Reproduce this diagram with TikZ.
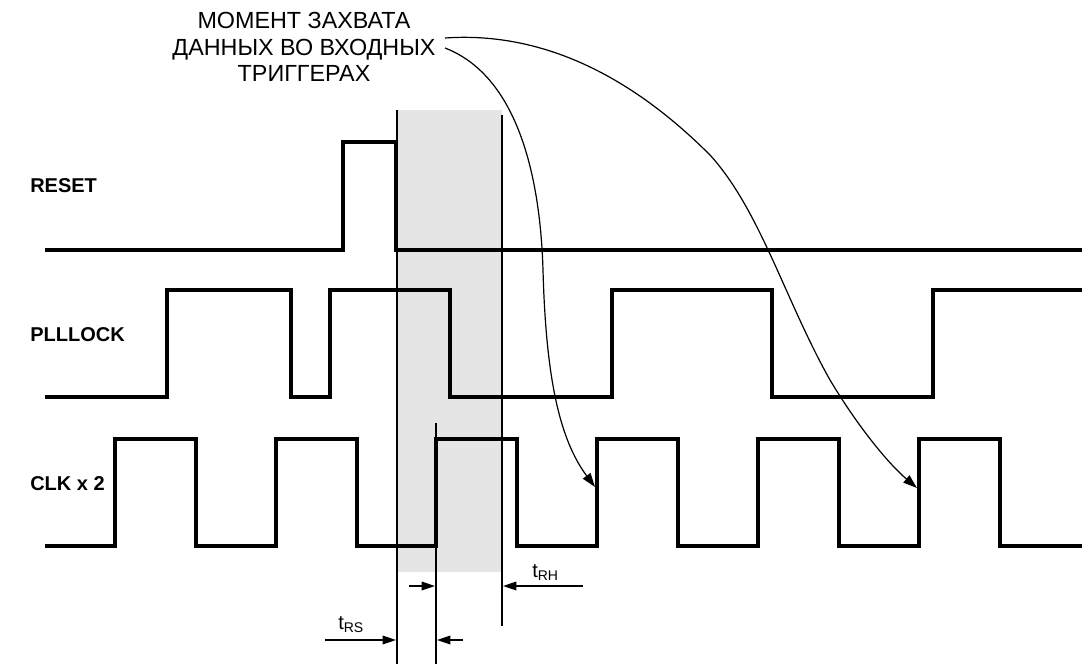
\documentclass[tikz,border=0pt]{standalone}
\usepackage{fontspec}
\setmainfont{Liberation Sans}
\usetikzlibrary{arrows.meta}
\newcommand{\tsub}[1]{t\raisebox{-0.35ex}{\fontsize{10.5}{12}\selectfont #1}}
\begin{document}
\begin{tikzpicture}[x=0.75pt,y=-0.75pt,
  sig/.style={line width=3pt},
  guide/.style={line width=1pt},
  lead/.style={line width=0.9pt, -{Triangle[length=10.5pt,width=7pt]}},
  dimarrow/.style={line width=1pt, -{Triangle[length=10pt,width=6.5pt]}},
  siglabel/.style={font=\bfseries\fontsize{15}{18}\selectfont, anchor=west, inner sep=0pt},
  timelabel/.style={font=\fontsize{15}{18}\selectfont, anchor=base west, inner sep=0pt},
]
\useasboundingbox (0,0) rectangle (1082,664);

% setup/hold window
\fill[gray!20] (397,110) rectangle (502,572);

% guide lines
\coordinate (g1t) at (397,110); \coordinate (g1b) at (397,664);
\coordinate (g2t) at (436,423); \coordinate (g2b) at (436,664);
\coordinate (g3t) at (502,115); \coordinate (g3b) at (502,626);
\draw[guide] (g1t) -- (g1b);
\draw[guide] (g2t) -- (g2b);
\draw[guide] (g3t) -- (g3b);

% waveforms
\draw[sig] (45,250) -| (343,142) -| (396,250) -- (1082,250);
\draw[sig] (45,397) -| (167,290) -| (291,397) -| (330,290) -| (450,397)
  -| (612,290) -| (772,397) -| (933,290) -- (1082,290);
\draw[sig] (45,546) -| (115,439) -| (196,546) -| (276,439) -| (357,546)
  -| (436,439) -| (517,546) -| (597,439) -| (678,546) -| (758,439)
  -| (839,546) -| (919,439) -| (1000,546) -- (1082,546);

% signal names
\node[siglabel] (lreset) at (30,186) {RESET};
\node[siglabel] (lpll) at (30,335) {PLLLOCK};
\node[siglabel] (lclk) at (30,484) {CLK x 2};

% capture note and its leaders
\node[align=center, inner sep=0pt, font=\fontsize{17.5}{19.9}\selectfont]
  (note) at (304,47) {МОМЕНТ ЗАХВАТА\\ДАННЫХ ВО ВХОДНЫХ\\ТРИГГЕРАХ};
\coordinate (s1) at (445,38);
\coordinate (s2) at (445,48);
\coordinate (e1) at (917,488);
\coordinate (e2) at (595,487);
\draw[lead] (s1) .. controls (560,30) and (650,95) .. (710,155)
  .. controls (760,210) and (785,300) .. (830,380)
  .. controls (860,430) and (890,465) .. (e1);
\draw[lead] (s2) .. controls (515,75) and (540,170) .. (543,270)
  .. controls (546,380) and (560,440) .. (e2);

% timing dimensions
\coordinate (rs1) at (325,640); \coordinate (rs2) at (396,640);
\coordinate (rs3) at (463,640); \coordinate (rs4) at (437,640);
\draw[dimarrow] (rs1) -- (rs2);
\draw[dimarrow] (rs3) -- (rs4);
\node[timelabel] (trs) at (338,629) {\tsub{RS}};

\coordinate (rh1) at (409,586); \coordinate (rh2) at (435,586);
\coordinate (rh3) at (583,586); \coordinate (rh4) at (503,586);
\draw[dimarrow] (rh1) -- (rh2);
\draw[dimarrow] (rh3) -- (rh4);
\node[timelabel] (trh) at (532,577) {\tsub{RH}};
\end{tikzpicture}
\end{document}
